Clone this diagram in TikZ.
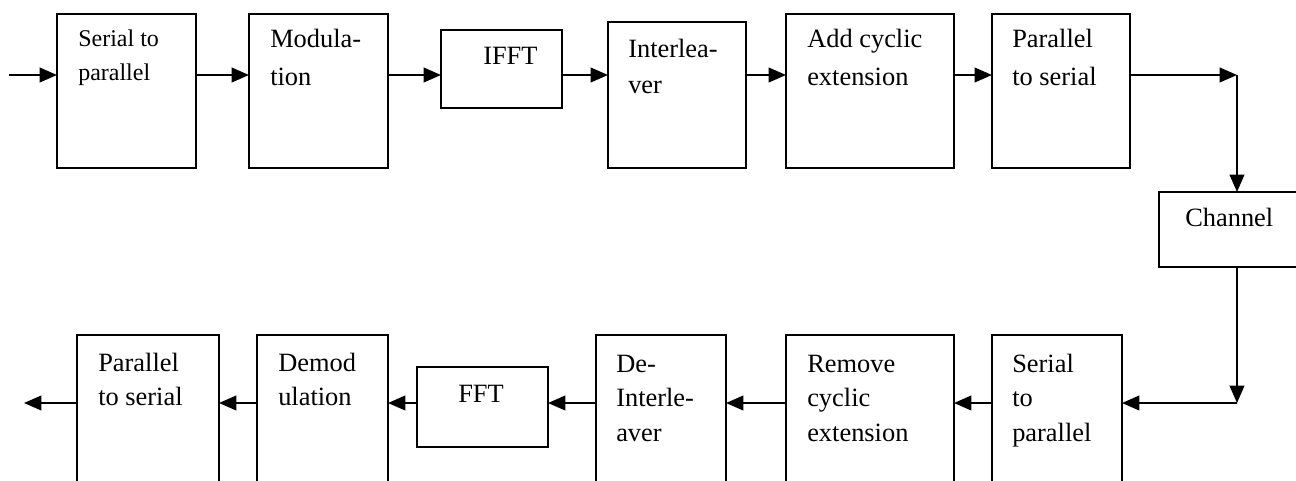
\documentclass[tikz,border=0pt]{standalone}
\usepackage{fontspec}
\setmainfont{Liberation Serif}
\usetikzlibrary{arrows.meta}
\newcommand\blkbox[5]{%
  \node[blk, minimum width={(#4-#2)*0.75pt}, minimum height={(#5-#3)*0.75pt}] (#1) at (#2,#3) {};}
\begin{document}
\begin{tikzpicture}[x=0.75pt,y=-0.75pt,
  blk/.style={draw, line width=1.5pt, rectangle, anchor=north west, inner sep=0pt, outer sep=0pt},
  arr/.style={line width=1.4pt, -{Triangle[length=13pt,width=11pt]}},
  txtA/.style={anchor=base west, inner sep=0pt, font=\fontsize{19.8pt}{28.5pt}\selectfont},
  txtB/.style={anchor=base west, inner sep=0pt, font=\fontsize{19.8pt}{25.9pt}\selectfont},
  txtS/.style={anchor=base west, inner sep=0pt, font=\fontsize{18pt}{25.5pt}\selectfont}]
\useasboundingbox (0,0) rectangle (1296,481);
\clip (0,0) rectangle (1296,481);
% top row boxes
\blkbox{sp1}{57}{14}{196}{168}
\blkbox{mod}{249}{14}{388}{168}
\blkbox{ifft}{441}{30}{562}{108}
\blkbox{il}{608}{22}{746}{168}
\blkbox{ace}{786}{14}{954}{168}
\blkbox{ps1}{992}{14}{1130}{168}
% channel
\blkbox{ch}{1159}{192}{1315}{267}
% bottom row boxes
\blkbox{ps2}{77}{335}{219}{489}
\blkbox{dem}{257}{335}{388}{489}
\blkbox{fft}{417}{367}{548}{447}
\blkbox{dil}{596}{335}{726}{489}
\blkbox{rce}{786}{335}{954}{489}
\blkbox{sp2}{992}{335}{1122}{489}
% texts
\node[txtS] (sp1t) at (78,47) {\vtop{\hbox{Serial to}\hbox{parallel}}};
\node[txtA] (modt) at (270,48) {\vtop{\hbox{Modula-}\hbox{tion}}};
\node[txtA] (ifftt) at (483,65) {IFFT};
\node[txtA, font=\fontsize{19.8pt}{27pt}\selectfont] (ilt) at (628,58) {\vtop{\hbox{Interlea-}\hbox{ver}}};
\node[txtA] (acet) at (807,48) {\vtop{\hbox{Add cyclic}\hbox{extension}}};
\node[txtA] (ps1t) at (1012,48) {\vtop{\hbox{Parallel}\hbox{to serial}}};
\node[txtA] (cht) at (1185,227) {Channel};
\node[txtB] (ps2t) at (98,371) {\vtop{\hbox{Parallel}\hbox{to serial}}};
\node[txtB] (demt) at (278,371) {\vtop{\hbox{Demod}\hbox{ulation}}};
\node[txtA] (fftt) at (458,402) {FFT};
\node[txtB] (dilt) at (616,372) {\vtop{\hbox{De-}\hbox{Interle-}\hbox{aver}}};
\node[txtB] (rcet) at (807,372) {\vtop{\hbox{Remove}\hbox{cyclic}\hbox{extension}}};
\node[txtB] (sp2t) at (1012,372) {\vtop{\hbox{Serial}\hbox{to}\hbox{parallel}}};
% coordinates
\coordinate (ty) at (0,75);
\coordinate (by) at (0,403);
\coordinate (in) at (9,75);
\coordinate (out) at (24,403);
\coordinate (c1) at (1237,75);
\coordinate (c2) at (1237,403);
% top connectors
\draw[arr] (in) -- (sp1.west |- ty);
\draw[arr] (sp1.east |- ty) -- (mod.west |- ty);
\draw[arr] (mod.east |- ty) -- (ifft.west |- ty);
\draw[arr] (ifft.east |- ty) -- (il.west |- ty);
\draw[arr] (il.east |- ty) -- (ace.west |- ty);
\draw[arr] (ace.east |- ty) -- (ps1.west |- ty);
\draw[arr] (ps1.east |- ty) -- (c1);
\draw[arr] (c1) -- (ch.north);
\draw[arr] (ch.south) -- (c2);
\draw[arr] (c2) -- (sp2.east |- by);
% bottom connectors
\draw[arr] (sp2.west |- by) -- (rce.east |- by);
\draw[arr] (rce.west |- by) -- (dil.east |- by);
\draw[arr] (dil.west |- by) -- (fft.east |- by);
\draw[arr] (fft.west |- by) -- (dem.east |- by);
\draw[arr] (dem.west |- by) -- (ps2.east |- by);
\draw[arr] (ps2.west |- by) -- (out);
\end{tikzpicture}
\end{document}
